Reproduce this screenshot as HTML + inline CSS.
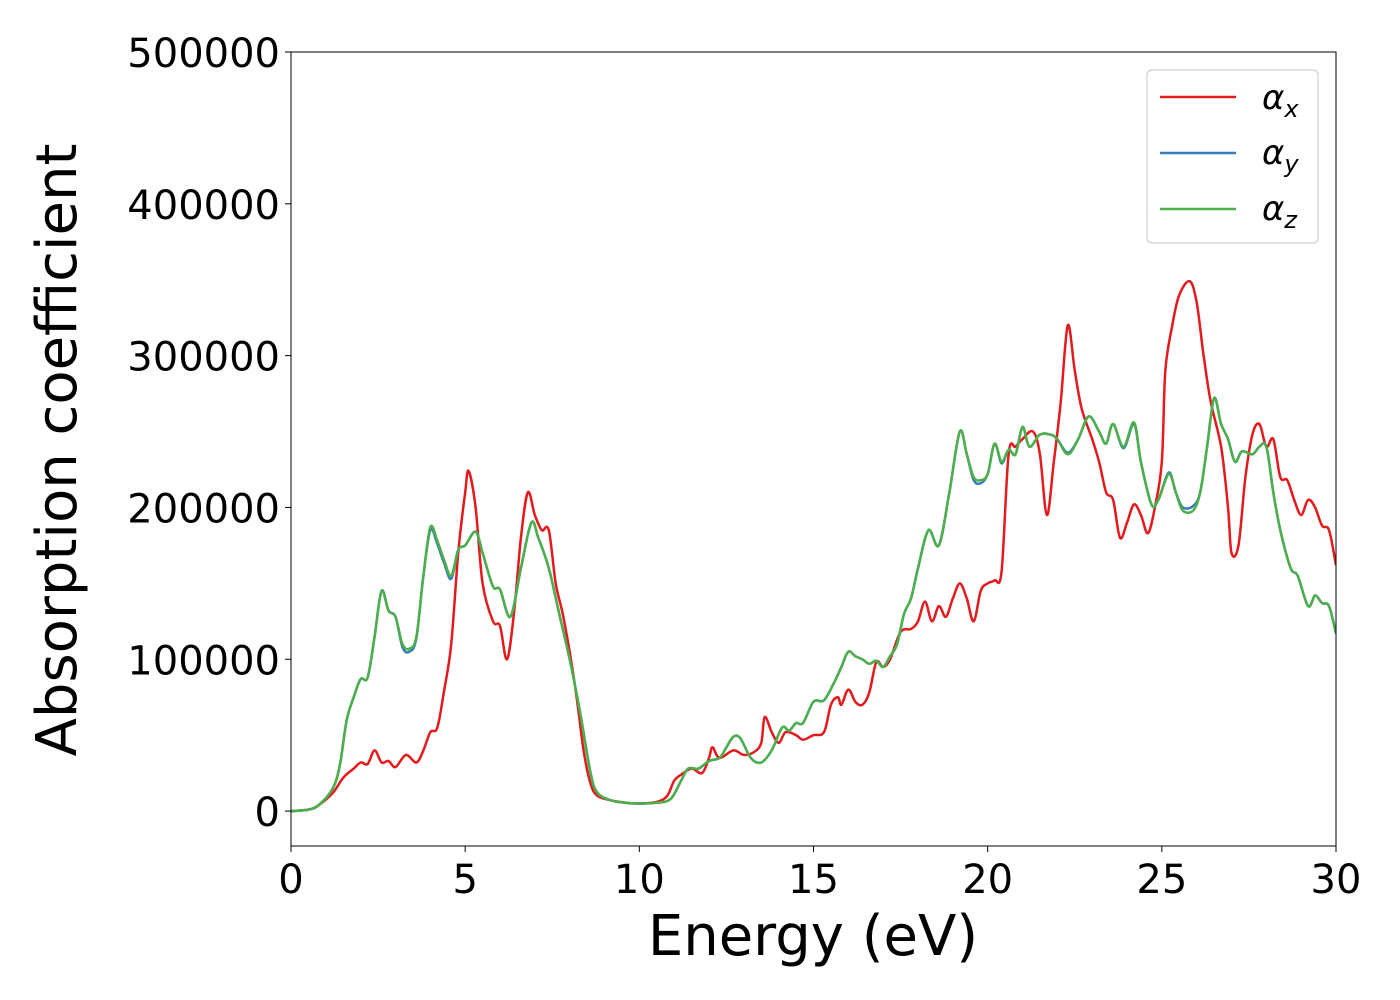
<!DOCTYPE html>
<html><head><meta charset="utf-8"><style>
body{margin:0;background:#fff;}
svg{display:block;font-family:"DejaVu Sans","Liberation Sans",sans-serif;}
</style></head><body>
<svg id="chart" width="1400" height="1000" viewBox="0 0 1400 1000">
<rect width="1400" height="1000" fill="#fff"/>
<g id="plot"></g>
<g id="axes"></g>
<text x="813" y="955" font-size="56" text-anchor="middle">Energy (eV)</text>
<text transform="translate(76,450) rotate(-90)" font-size="56" text-anchor="middle">Absorption coefficient</text>
<g>
<rect x="1147" y="70" width="171" height="173" rx="5" fill="#fff" stroke="#d0d0d0" stroke-width="1.2"/>
<g><line x1="1160" y1="97" x2="1236" y2="97" stroke="#e41a1c" stroke-width="2.5"/><text x="1262" y="109" font-size="34" font-style="italic">α<tspan font-size="24" dy="8">x</tspan></text></g>
<g><line x1="1160" y1="153" x2="1236" y2="153" stroke="#377eb8" stroke-width="2.5"/><text x="1262" y="164" font-size="34" font-style="italic">α<tspan font-size="24" dy="8">y</tspan></text></g>
<g><line x1="1160" y1="209" x2="1236" y2="209" stroke="#4daf4a" stroke-width="2.5"/><text x="1262" y="220" font-size="34" font-style="italic">α<tspan font-size="24" dy="8">z</tspan></text></g>
</g>
</svg>
<script>
const xTicks=[0,5,10,15,20,25,30];
const yTicks=[0,100000,200000,300000,400000,500000];
const energyX=[0,0.5,0.8,1.2,1.5,1.8,2.0,2.2,2.4,2.6,2.8,3.0,3.3,3.6,3.8,4.0,4.2,4.4,4.6,4.8,5.0,5.1,5.3,5.5,5.8,6.0,6.2,6.4,6.6,6.8,7.0,7.2,7.4,7.6,7.8,8.0,8.2,8.4,8.6,8.8,9.2,9.6,10,10.5,10.8,11.0,11.2,11.5,11.8,12.0,12.1,12.3,12.7,13.0,13.3,13.5,13.6,13.8,14.0,14.2,14.5,14.7,15.0,15.3,15.5,15.7,15.8,16.0,16.2,16.4,16.6,16.8,17.0,17.2,17.5,17.8,18.0,18.2,18.4,18.6,18.8,19.0,19.2,19.4,19.6,19.8,20.0,20.2,20.4,20.6,20.8,21.0,21.3,21.5,21.7,21.9,22.1,22.3,22.5,22.7,23.0,23.2,23.4,23.6,23.8,24.0,24.2,24.4,24.6,24.8,25.0,25.1,25.3,25.5,25.8,26.0,26.2,26.4,26.7,26.9,27.0,27.2,27.4,27.6,27.8,28.0,28.2,28.4,28.6,28.8,29.0,29.2,29.4,29.6,29.8,30.0];
const alphaX=[0,1000,4000,12000,22000,28000,32000,31000,40000,32000,33000,29000,37000,32000,40000,52000,55000,80000,110000,170000,210000,224000,200000,150000,125000,122000,100000,130000,180000,210000,195000,185000,185000,150000,130000,105000,75000,40000,18000,10000,7000,5500,5000,6000,10000,20000,24000,28000,25000,35000,42000,35000,40000,37000,39000,45000,62000,52000,45000,52000,50000,47000,50000,52000,70000,75000,70000,80000,72000,70000,78000,98000,95000,100000,118000,120000,125000,138000,125000,135000,128000,140000,150000,140000,125000,145000,150000,152000,158000,235000,240000,245000,250000,235000,195000,230000,270000,320000,290000,265000,245000,230000,210000,205000,180000,190000,202000,195000,183000,200000,230000,290000,320000,340000,349000,335000,300000,270000,240000,200000,170000,175000,220000,248000,255000,240000,245000,220000,218000,205000,195000,205000,200000,188000,185000,162000];
const energyYZ=[0,0.5,0.8,1.2,1.4,1.6,1.8,2.0,2.2,2.4,2.6,2.8,3.0,3.2,3.4,3.6,3.8,4.0,4.2,4.4,4.6,4.8,5.0,5.3,5.5,5.8,6.0,6.3,6.6,6.9,7.1,7.4,7.7,8.0,8.3,8.6,8.8,9.2,9.6,10,10.5,10.9,11.2,11.4,11.7,12.0,12.3,12.5,12.7,12.9,13.2,13.5,13.8,14.1,14.3,14.5,14.7,15.0,15.3,15.6,15.8,16.0,16.2,16.4,16.6,16.8,17.0,17.2,17.4,17.6,17.8,18.0,18.3,18.6,18.9,19.2,19.4,19.6,19.8,20.0,20.2,20.4,20.6,20.8,21.0,21.2,21.5,21.8,22.0,22.3,22.6,22.9,23.2,23.4,23.6,23.9,24.2,24.4,24.7,24.9,25.2,25.4,25.6,25.9,26.1,26.3,26.5,26.7,26.9,27.1,27.3,27.6,27.8,28.0,28.2,28.4,28.7,28.9,29.2,29.4,29.6,29.8,30.0];
const alphaY=[0,1000,4000,15000,30000,60000,75000,87000,88000,115000,145000,132000,128000,108000,105000,114000,155000,185000,176000,163000,153000,172000,175000,184000,170000,148000,146000,128000,160000,190000,180000,160000,130000,100000,65000,25000,12000,7000,5500,5000,5500,8000,20000,28000,28000,33000,35000,42000,49000,48000,35000,32000,40000,55000,53000,58000,58000,72000,73000,85000,95000,105000,102000,100000,97000,99000,95000,102000,110000,130000,140000,160000,185000,175000,210000,250000,235000,218000,216000,222000,242000,229000,238000,235000,253000,240000,248000,248000,245000,236000,245000,260000,250000,242000,255000,239000,255000,230000,202000,205000,223000,210000,200000,201000,210000,240000,272000,255000,245000,230000,237000,235000,240000,240000,210000,185000,160000,155000,135000,142000,137000,135000,117000];
const alphaZ=[0,1000,4000,15000,30000,60000,75000,87000,88000,115000,145000,132000,128000,110000,107000,115000,155000,187000,178000,165000,155000,172000,175000,184000,170000,148000,146000,128000,160000,190000,180000,160000,130000,100000,65000,25000,12000,7000,5500,5000,5500,8000,20000,28000,28000,33000,35000,42000,49000,48000,35000,32000,40000,55000,53000,58000,58000,72000,73000,85000,95000,105000,102000,100000,97000,99000,95000,102000,110000,130000,140000,160000,185000,175000,210000,250000,235000,220000,218000,222000,242000,230000,238000,235000,253000,240000,248000,248000,245000,235000,245000,260000,250000,242000,255000,240000,256000,230000,202000,205000,222000,210000,198000,198000,210000,240000,272000,255000,245000,230000,237000,235000,240000,240000,210000,185000,160000,155000,135000,142000,137000,135000,117000];

const L=291,R=1336,T=52,B=846;
const X0=0,X1=30,Y0=-23000,Y1=500000;
const sx=v=>L+(v-X0)/(X1-X0)*(R-L);
const sy=v=>B-(v-Y0)/(Y1-Y0)*(B-T);
const NS='http://www.w3.org/2000/svg';
const plot=document.getElementById('plot'),axes=document.getElementById('axes');

function pathFor(xs,ys){
  const p=xs.map((x,i)=>[sx(x),sy(ys[i])]);
  let d='M'+p[0][0].toFixed(1)+','+p[0][1].toFixed(1);
  for(let i=0;i<p.length-1;i++){
    const p0=p[Math.max(0,i-1)],p1=p[i],p2=p[i+1],p3=p[Math.min(p.length-1,i+2)];
    const c1=[p1[0]+(p2[0]-p0[0])/6,p1[1]+(p2[1]-p0[1])/6];
    const c2=[p2[0]-(p3[0]-p1[0])/6,p2[1]-(p3[1]-p1[1])/6];
    d+='C'+c1[0].toFixed(1)+','+c1[1].toFixed(1)+' '+c2[0].toFixed(1)+','+c2[1].toFixed(1)+' '+p2[0].toFixed(1)+','+p2[1].toFixed(1);
  }
  return d;
}
const series=[[energyX,alphaX,'#e41a1c','series-alpha-x'],[energyYZ,alphaY,'#377eb8','series-alpha-y'],[energyYZ,alphaZ,'#4daf4a','series-alpha-z']];
const cp=document.createElementNS(NS,'clipPath');cp.setAttribute('id','clip');
const cr=document.createElementNS(NS,'rect');cr.setAttribute('x',L);cr.setAttribute('y',T);cr.setAttribute('width',R-L);cr.setAttribute('height',B-T);
cp.appendChild(cr);plot.appendChild(cp);
series.forEach(s=>{
  const el=document.createElementNS(NS,'path');
  el.setAttribute('d',pathFor(s[0],s[1]));
  el.setAttribute('fill','none');el.setAttribute('stroke',s[2]);el.setAttribute('stroke-width','2.5');
  el.setAttribute('clip-path','url(#clip)');
  
  
  plot.appendChild(el);
});
const frame=document.createElementNS(NS,'rect');
frame.setAttribute('x',L);frame.setAttribute('y',T);frame.setAttribute('width',R-L);frame.setAttribute('height',B-T);
frame.setAttribute('fill','none');frame.setAttribute('stroke','#000');frame.setAttribute('stroke-width','1');


axes.appendChild(frame);
xTicks.forEach(v=>{
  const t=document.createElementNS(NS,'line');
  t.setAttribute('x1',sx(v));t.setAttribute('x2',sx(v));t.setAttribute('y1',B);t.setAttribute('y2',B+6);t.setAttribute('stroke','#000');
  
  
  axes.appendChild(t);
  const l=document.createElementNS(NS,'text');
  l.setAttribute('x',sx(v));l.setAttribute('y',B+47);l.setAttribute('font-size','40');l.setAttribute('text-anchor','middle');
  l.textContent=v;
  
  
  axes.appendChild(l);
});
yTicks.forEach(v=>{
  const t=document.createElementNS(NS,'line');
  t.setAttribute('x1',L-6);t.setAttribute('x2',L);t.setAttribute('y1',sy(v));t.setAttribute('y2',sy(v));t.setAttribute('stroke','#000');
  
  
  axes.appendChild(t);
  const l=document.createElementNS(NS,'text');
  l.setAttribute('x',L-11);l.setAttribute('y',sy(v)+15);l.setAttribute('font-size','40');l.setAttribute('text-anchor','end');
  l.textContent=v;
  
  
  axes.appendChild(l);
});
</script>
</body></html>
